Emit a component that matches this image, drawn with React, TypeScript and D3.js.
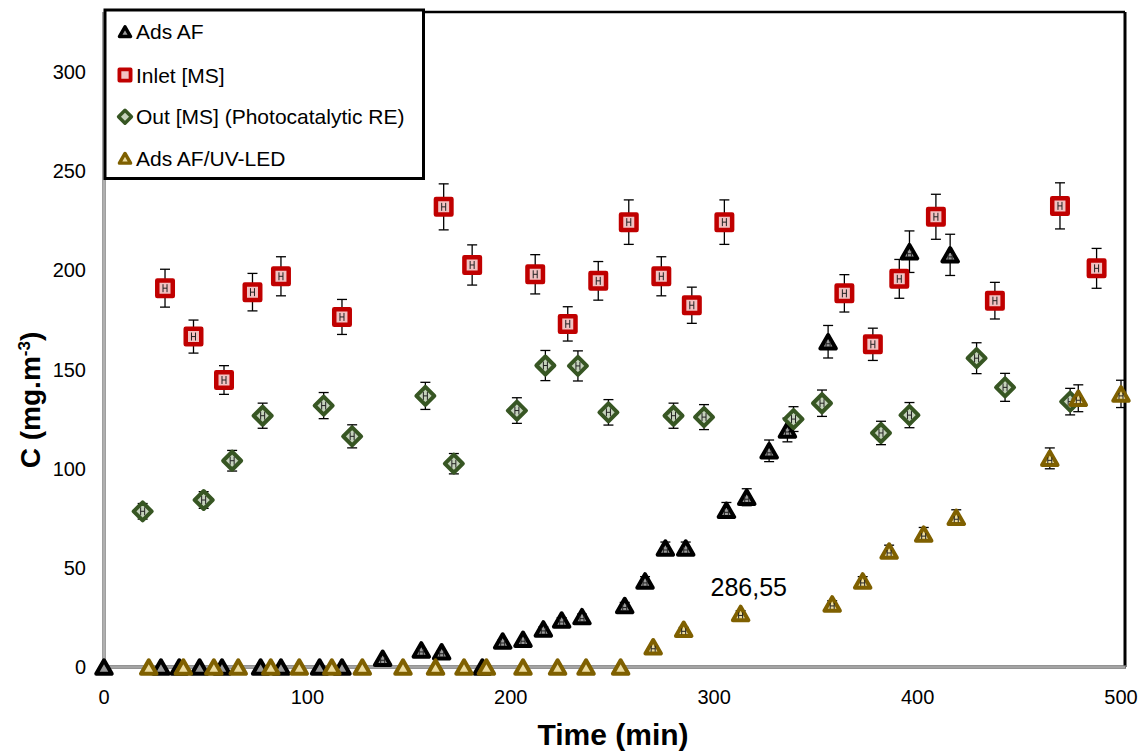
import React from 'react';
import * as d3 from 'd3';

// ---- Data ----
const adsAfTime = [0, 28, 37, 47, 58, 77, 87, 106, 117, 137, 156, 166, 186, 196, 206, 216, 225, 235, 256, 266, 276, 286, 306, 316, 327, 336, 356, 396, 416];
const adsAfValue = [0, 0, 0, 0, 0, 0, 0, 0, 0, 4.4, 8.6, 7.7, 0, 13.1, 14, 19.2, 23.7, 25.4, 31, 43.4, 60, 60, 79, 85.6, 109, 119.5, 164, 209.4, 207.8];

const inletTime = [30, 44, 59, 73, 87, 117, 167, 181, 212, 228, 243, 258, 274, 289, 305, 364, 378, 391, 409, 438, 470, 488];
const inletValue = [191, 166.6, 144.7, 189, 197, 176.5, 232, 202.7, 198, 173, 194.7, 224.3, 197, 182.4, 224.3, 188.4, 162.7, 195.7, 227, 184.7, 232.5, 201];

const outTime = [19, 49, 63, 78, 108, 122, 158, 172, 203, 217, 233, 248, 280, 295, 339, 353, 382, 396, 429, 443, 475];
const outValue = [78.5, 84.2, 104, 126.7, 131.8, 116.3, 136.7, 102.5, 129.3, 152, 151.8, 128.4, 126.7, 126, 125, 133, 118, 127, 155.7, 141, 133.8];

const uvTime = [22, 39, 54, 66, 82, 96, 112, 127, 147, 163, 177, 188, 206, 223, 237, 254, 270, 285, 313, 358, 373, 386, 403, 419, 465, 479, 500];
const uvValue = [0, 0, 0, 0, 0, 0, 0, 0, 0, 0, 0, 0, 0, 0, 0, 0, 10.2, 19, 27, 31.8, 43.4, 58.5, 67, 75.5, 105.2, 135.5, 137.7];

const seriesNames = ['Ads AF', 'Inlet [MS]', 'Out [MS] (Photocatalytic RE)', 'Ads AF/UV-LED'];
const xTicks = [0, 100, 200, 300, 400, 500];
const yTicks = [0, 50, 100, 150, 200, 250, 300];
const errorPct = 0.05;
const annotation = { text: '286,55', t: 317, v: 40.3 };

const FONT = "'Liberation Sans', Arial, Helvetica, sans-serif";

type Shape = 'triangle' | 'square' | 'diamond';
interface Style { shape: Shape; stroke: string; fill: string; sw: number; }

const styles: Style[] = [
  { shape: 'triangle', stroke: '#000000', fill: '#9a9a9a', sw: 4 },
  { shape: 'square', stroke: '#c00000', fill: '#f2c2c2', sw: 4.5 },
  { shape: 'diamond', stroke: '#375623', fill: '#c5d2bc', sw: 4 },
  { shape: 'triangle', stroke: '#7f6000', fill: '#ecdca0', sw: 4 },
];

function markerPath(shape: Shape, cx: number, cy: number, s: number): string {
  const p = d3.path();
  if (shape === 'triangle') {
    const w = 15.5 * s, h = 13.5 * s;
    p.moveTo(cx, cy - h / 2);
    p.lineTo(cx + w / 2, cy + h / 2);
    p.lineTo(cx - w / 2, cy + h / 2);
    p.closePath();
  } else if (shape === 'square') {
    const a = 15.5 * s;
    p.rect(cx - a / 2, cy - a / 2, a, a);
  } else {
    const r = 9 * s;
    p.moveTo(cx, cy - r);
    p.lineTo(cx + r, cy);
    p.lineTo(cx, cy + r);
    p.lineTo(cx - r, cy);
    p.closePath();
  }
  return p.toString();
}

export default function App() {
  const W = 1138, H = 751;
  const x = d3.scaleLinear().domain([0, 500]).range([104, 1121]);
  const y = d3.scaleLinear().domain([0, 330]).range([667, 12.5]);
  const left = 104, right = 1125, bottom = 667, top = 12;

  const series = [
    { t: adsAfTime, v: adsAfValue },
    { t: inletTime, v: inletValue },
    { t: outTime, v: outValue },
    { t: uvTime, v: uvValue },
  ];

  const legendY = [31.7, 75, 116.7, 158.3];

  return (
    <svg width={W} height={H} style={{ position: 'absolute', left: 0, top: 0, background: '#fff' }}>
      <rect x={0} y={0} width={W} height={H} fill="#fff" />
      {/* Frame */}
      <line x1={left} y1={top} x2={right} y2={top} stroke="#000" strokeWidth={2.5} />
      <line x1={right} y1={top} x2={right} y2={bottom} stroke="#000" strokeWidth={3} />
      <line x1={left} y1={top} x2={left} y2={bottom + 1} stroke="#7f7f7f" strokeWidth={3.5} />
      <line x1={left} y1={top} x2={left} y2={bottom} stroke="#e0e0e0" strokeWidth={1} />
      <line x1={left} y1={bottom} x2={right + 1} y2={bottom} stroke="#6f6f6f" strokeWidth={3.5} />
      <line x1={left} y1={bottom} x2={right} y2={bottom} stroke="#d9d9d9" strokeWidth={1} />

      {/* Tick labels */}
      {xTicks.map((t) => (
        <text key={'x' + t} x={x(t)} y={704} textAnchor="middle" fontFamily={FONT} fontSize={20} fill="#000">{t}</text>
      ))}
      {yTicks.map((v) => (
        <text key={'y' + v} x={86} y={y(v)} textAnchor="end" dominantBaseline="central" fontFamily={FONT} fontSize={20} fill="#000">{v}</text>
      ))}

      {/* Axis titles */}
      <text x={613} y={745} textAnchor="middle" fontFamily={FONT} fontSize={30} fontWeight="bold" fill="#000">Time (min)</text>
      <text transform="translate(40,400) rotate(-90)" textAnchor="middle" fontFamily={FONT} fontSize={28} fontWeight="bold" fill="#000">
        C (mg.m<tspan dy={-10} fontSize={17}>-3</tspan><tspan dy={10}>)</tspan>
      </text>

      {/* Series */}
      {series.map((s, si) => {
        const st = styles[si];
        return (
          <g key={'s' + si}>
            {s.t.map((t, i) => {
              const v = s.v[i];
              const cx = x(t), cy = y(v);
              const e = v * errorPct;
              const y1 = y(v + e), y2 = y(v - e);
              const gy = st.shape === 'triangle' ? cy + 2 : cy;
              const gh = st.shape === 'triangle' ? 3 : 4;
              return (
                <g key={i}>
                  {e > 0 && (
                    <g stroke="#000" strokeWidth={1.3}>
                      <line x1={cx} y1={y1} x2={cx} y2={y2} />
                      <line x1={cx - 5} y1={y1} x2={cx + 5} y2={y1} />
                      <line x1={cx - 5} y1={y2} x2={cx + 5} y2={y2} />
                    </g>
                  )}
                  <path d={markerPath(st.shape, cx, cy, 1)} fill={st.fill} stroke={st.stroke} strokeWidth={st.sw} strokeLinejoin="round" />
                  {e > 0 && (
                    <g stroke="#222" strokeWidth={1}>
                      <line x1={cx - 2} y1={gy - gh} x2={cx - 2} y2={gy + gh} />
                      <line x1={cx + 2} y1={gy - gh} x2={cx + 2} y2={gy + gh} />
                      <line x1={cx - 2} y1={gy} x2={cx + 2} y2={gy} />
                    </g>
                  )}
                </g>
              );
            })}
          </g>
        );
      })}

      {/* Annotation */}
      <text x={x(annotation.t)} y={y(annotation.v)} textAnchor="middle" dominantBaseline="central" fontFamily={FONT} fontSize={25} fill="#000">{annotation.text}</text>

      {/* Legend */}
      <rect x={105} y={10} width={318.5} height={168.5} fill="#fff" stroke="#000" strokeWidth={3} />
      {seriesNames.map((name, i) => {
        const st = styles[i];
        return (
          <g key={'l' + i}>
            <path d={markerPath(st.shape, 125, legendY[i], 0.72)} fill={st.fill} stroke={st.stroke} strokeWidth={st.sw * 0.85} strokeLinejoin="round" />
            <text x={136} y={legendY[i]} dominantBaseline="central" fontFamily={FONT} fontSize={21} fill="#000">{name}</text>
          </g>
        );
      })}
    </svg>
  );
}
